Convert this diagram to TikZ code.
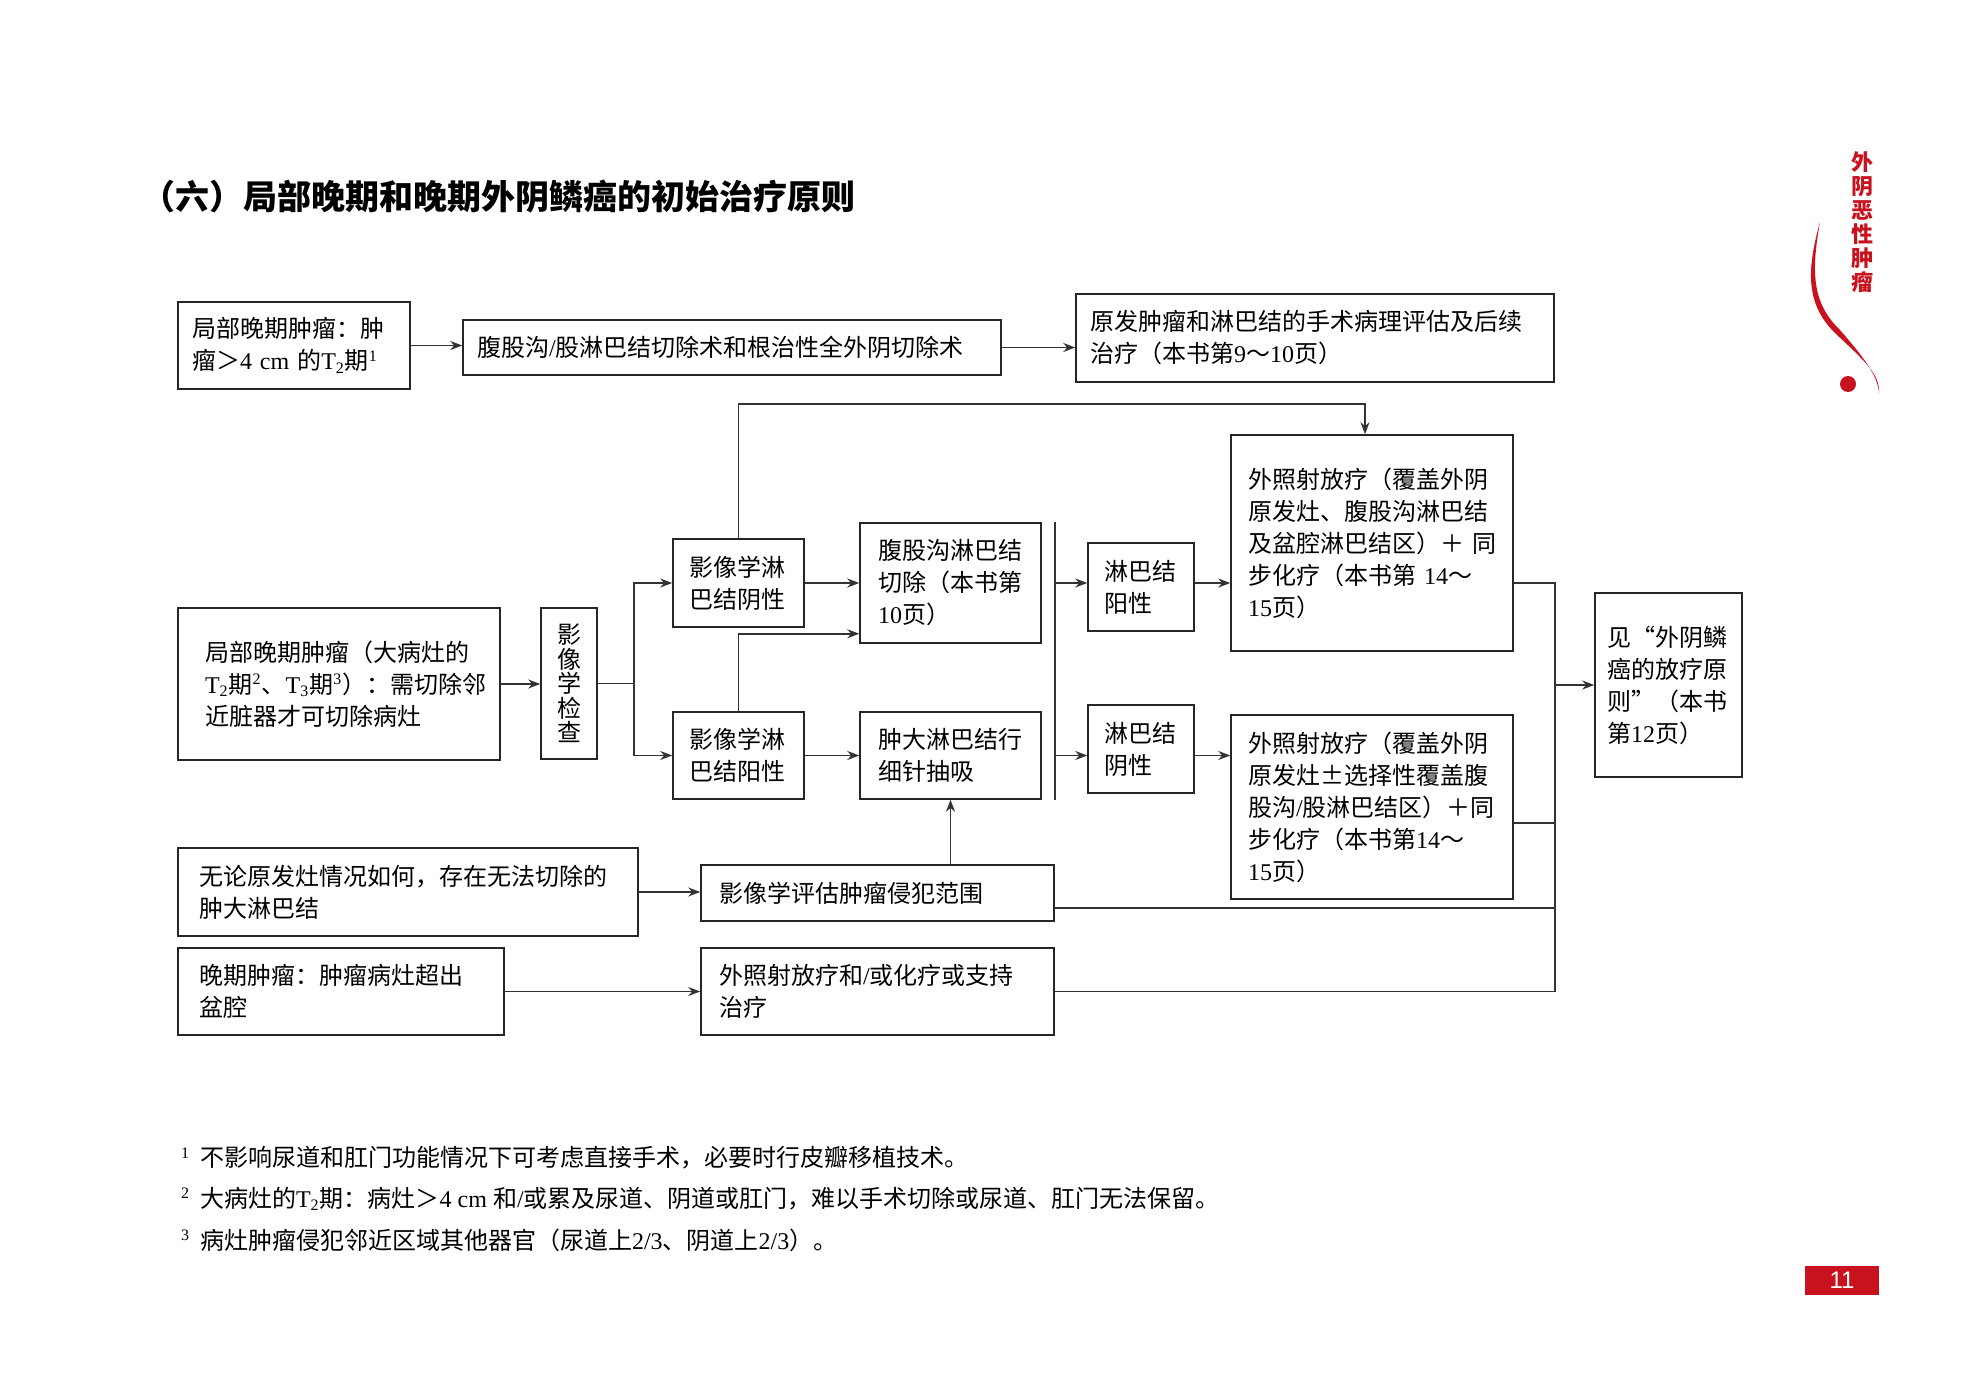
\documentclass[tikz,border=0pt]{standalone}
\usepackage{fontspec}
\setmainfont{Liberation Serif}
\newfontfamily\cjk{Noto Sans CJK SC}
\newfontfamily\lat{Liberation Serif}
\newfontfamily\arial{Liberation Sans}
\usetikzlibrary{arrows.meta}
% Chinese characters in \cjk, the rest in \lat
\XeTeXinterchartokenstate=1
\newXeTeXintercharclass\cjkclass
\newcount\cjkcount
\def\cjkrange#1#2{\cjkcount=#1\relax
  \loop\XeTeXcharclass\cjkcount=\cjkclass\relax
  \ifnum\cjkcount<#2\relax\advance\cjkcount by 1\relax\repeat}
\cjkrange{"3000}{"303F}
\cjkrange{"4E00}{"9FFF}
\cjkrange{"FF00}{"FFEF}
\XeTeXcharclass"201C=\cjkclass\relax
\XeTeXcharclass"201D=\cjkclass\relax
\XeTeXcharclass"00B1=\cjkclass\relax
\XeTeXinterchartoks 0 \cjkclass={\cjk}
\XeTeXinterchartoks 4095 \cjkclass={\cjk}
\XeTeXinterchartoks \cjkclass 0={\lat}
\XeTeXinterchartoks \cjkclass 4095={\lat}
\definecolor{brandred}{RGB}{200,18,30}
\begin{document}
\begin{tikzpicture}[x=0.5pt,y=-0.5pt,
  box/.style={draw=black!85,line width=0.75pt,align=left,inner xsep=7pt,inner ysep=0pt,font=\fontsize{12}{16}\selectfont},
  line/.style={draw=black!80,line width=0.75pt},
  arr/.style={-{Stealth[length=6pt,width=4.5pt]}}]
\useasboundingbox (0,0) rectangle (1965,1398);
\node[anchor=west,font=\fontsize{17}{17}\selectfont\bfseries] (title) at (134,197) {（六）局部晚期和晚期外阴鳞癌的初始治疗原则};
% top row
\node[box,text width=102pt,minimum height=43.5pt] (A1) at (294,345.5) {局部晚期肿瘤：肿\\瘤＞4 cm 的T\textsubscript{2}期\textsuperscript{1}};
\node[box,text width=255pt,minimum height=27.5pt] (A2) at (732,347.5) {腹股沟/股淋巴结切除术和根治性全外阴切除术};
\node[box,text width=225pt,minimum height=44pt] (A3) at (1315,338) {原发肿瘤和淋巴结的手术病理评估及后续\\治疗（本书第9～10页）};
% middle block
\node[box,text width=134pt,inner xsep=13.5pt,minimum height=76pt] (B1) at (339,684) {局部晚期肿瘤（大病灶的\\T\textsubscript{2}期\textsuperscript{2}、T\textsubscript{3}期\textsuperscript{3}）：需切除邻\\近脏器才可切除病灶};
\node[box,text width=12pt,inner xsep=8pt,align=center,minimum height=75.5pt,font=\fontsize{12}{12.2}\selectfont] (B2) at (569,683.5) {影\\像\\学\\检\\查};
\node[box,text width=49pt,inner xsep=8.25pt,minimum height=44pt] (C1) at (738.5,583) {影像学淋\\巴结阴性};
\node[box,text width=49pt,inner xsep=8.25pt,minimum height=43.5pt] (C2) at (738.5,755.5) {影像学淋\\巴结阳性};
\node[box,text width=72.5pt,inner xsep=9pt,minimum height=60pt] (D1) at (950.5,583) {腹股沟淋巴结\\切除（本书第\\10页）};
\node[box,text width=72.5pt,inner xsep=9pt,minimum height=43.5pt] (D2) at (950.5,755.5) {肿大淋巴结行\\细针抽吸};
\node[box,text width=37pt,inner xsep=8pt,minimum height=44pt] (F1) at (1141,587) {淋巴结\\阳性};
\node[box,text width=37pt,inner xsep=8pt,minimum height=44pt] (F2) at (1141,749) {淋巴结\\阴性};
\node[box,text width=124pt,inner xsep=8.5pt,minimum height=108pt] (E1) at (1372,543) {外照射放疗（覆盖外阴\\原发灶、腹股沟淋巴结\\及盆腔淋巴结区）＋ 同\\步化疗（本书第 14～\\15页）};
\node[box,text width=124pt,inner xsep=8.5pt,minimum height=92pt] (E2) at (1372,807) {外照射放疗（覆盖外阴\\原发灶±选择性覆盖腹\\股沟/股淋巴结区）＋同\\步化疗（本书第14～\\15页）};
\node[box,text width=61.5pt,inner xsep=6pt,minimum height=92pt] (G) at (1668.5,685) {见“外阴鳞\\癌的放疗原\\则”（本书\\第12页）};
% bottom rows
\node[box,text width=209pt,inner xsep=10.5pt,minimum height=44pt] (H1) at (408,892) {无论原发灶情况如何，存在无法切除的\\肿大淋巴结};
\node[box,text width=158.5pt,inner xsep=9pt,minimum height=28pt] (H2) at (877.5,893) {影像学评估肿瘤侵犯范围};
\node[box,text width=142pt,inner xsep=10.5pt,minimum height=43.5pt] (I1) at (341,991.5) {晚期肿瘤：肿瘤病灶超出\\盆腔};
\node[box,text width=158.5pt,inner xsep=9pt,minimum height=43.5pt] (I2) at (877.5,991.5) {外照射放疗和/或化疗或支持\\治疗};
% connectors
\coordinate (br) at ([xshift=18pt]B2.east);
\coordinate (top) at (1365,404);
\coordinate (bar) at ([xshift=6.5pt]D1.north east);
\coordinate (jn) at (1555,685);
\draw[line,arr] (A1.east) -- (A1.east -| A2.west);
\draw[line,arr] (A2.east) -- (A2.east -| A3.west);
\draw[line,arr] (B1.east) -- (B1.east -| B2.west);
\draw[line] (B2.east) -- (br);
\draw[line,arr] (br) |- (C1.west);
\draw[line,arr] (br) |- (C2.west);
\draw[line,arr] (C1.east) -- (D1.west);
\draw[line,arr] (C2.east) -- (D2.west);
\draw[line,arr] (C2.north) |- ([yshift=5pt]D1.south west);
\draw[line,arr] (C1.north) |- (top) -- (top |- E1.north);
\draw[line] (bar) -- (bar |- D2.south);
\draw[line,arr] (bar |- D1) -- (F1.west |- D1);
\draw[line,arr] (F1.east |- D1) -- (E1.west |- D1);
\draw[line,arr] (bar |- D2) -- (F2.west |- D2);
\draw[line,arr] (F2.east |- D2) -- (E2.west |- D2);
\draw[line] (E1.east |- D1) -| (jn |- I2);
\draw[line] ([yshift=-8pt]E2.east) -- ([yshift=-8pt]E2.east -| jn);
\draw[line] ([yshift=-7.5pt]H2.east) -- ([yshift=-7.5pt]H2.east -| jn);
\draw[line] (I2.east) -- (I2.east -| jn);
\draw[line,arr] (jn) -- (G.west);
\draw[line,arr] (H1.east) -- (H1.east -| H2.west);
\draw[line,arr] (D2.south |- H2.north) -- (D2.south);
\draw[line,arr] (I1.east) -- (I2.west);
% footnotes
\node[anchor=west,font=\fontsize{12}{14}\selectfont] (fn1) at (174,1158) {\textsuperscript{1}\hspace{5pt}不影响尿道和肛门功能情况下可考虑直接手术，必要时行皮瓣移植技术。};
\node[anchor=west,font=\fontsize{12}{14}\selectfont] (fn2) at (174,1199) {\textsuperscript{2}\hspace{5pt}大病灶的T\textsubscript{2}期：病灶＞4 cm 和/或累及尿道、阴道或肛门，难以手术切除或尿道、肛门无法保留。};
\node[anchor=west,font=\fontsize{12}{14}\selectfont] (fn3) at (174,1240) {\textsuperscript{3}\hspace{5pt}病灶肿瘤侵犯邻近区域其他器官（尿道上2/3、阴道上2/3）。};
% side mark and page number
\node[text=brandred,align=center,font=\fontsize{11}{12}\selectfont\bfseries] (side) at (1862,222) {外\\阴\\恶\\性\\肿\\瘤};
\fill[brandred] (1820,222) .. controls (1806,272) and (1806,305) .. (1836,334)
  .. controls (1866,362) and (1880,375) .. (1879,393)
  .. controls (1878,378) and (1868,362) .. (1840,330)
  .. controls (1812,303) and (1811,272) .. (1820,222) -- cycle;
\fill[brandred] (1848,384) circle[radius=4pt];
\node[fill=brandred,text=white,minimum width=37pt,minimum height=14.5pt,inner sep=0pt,font=\arial\fontsize{12}{12}\selectfont] (page) at (1842,1280) {11};
\end{tikzpicture}
\end{document}
